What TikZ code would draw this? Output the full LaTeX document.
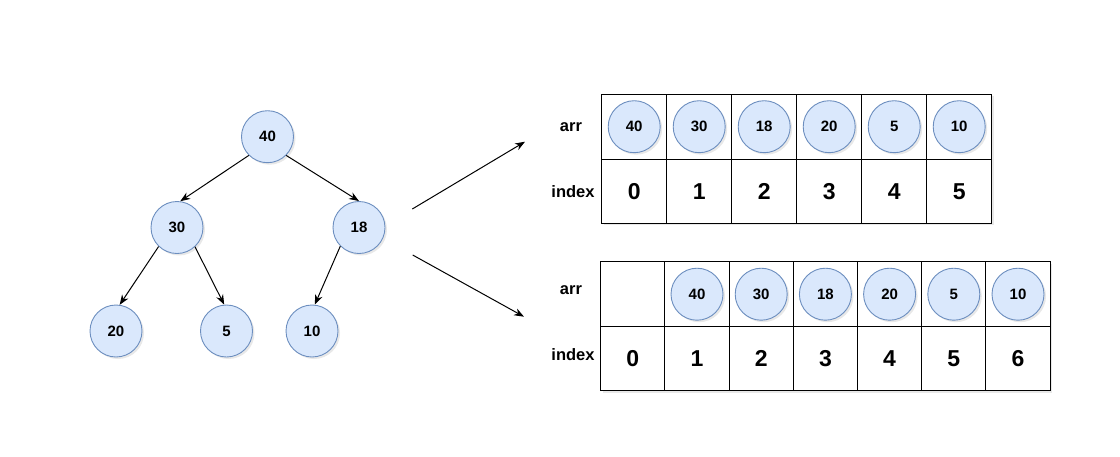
\documentclass[tikz,border=0pt]{standalone}
\usepackage{fontspec}
\setmainfont{Liberation Sans}
\usetikzlibrary{arrows.meta,shadows,positioning}
\definecolor{heapfill}{HTML}{DAE8FC}
\definecolor{heapline}{HTML}{6C8EBF}
\tikzstyle{arrow} = [->,>={Stealth[length=10pt,width=7.5pt]},line width=1pt]
\tikzstyle{heap} = [circle,draw=heapline,fill=heapfill,line width=0.9pt,minimum size=52pt,inner sep=0pt,
  font=\bfseries\fontsize{15}{15}\selectfont,drop shadow={shadow xshift=2pt,shadow yshift=-2pt,opacity=0.18}]
\tikzstyle{cell} = [rectangle,draw,fill=white,line width=1pt,inner sep=0pt,
  font=\bfseries\fontsize{23}{23}\selectfont,drop shadow={shadow xshift=2pt,shadow yshift=-2pt,opacity=0.18}]
\tikzstyle{rowlabel} = [font=\bfseries\fontsize{16.5}{16.5}\selectfont]

\begin{document}
\begin{tikzpicture}[x=1pt,y=-1pt]
\useasboundingbox (0,0) rectangle (1120,456);
% tree
\node[heap] (t40) at (267.5,136.7) {40};
\node[heap] (t30) at (177,227.5) {30};
\node[heap] (t18) at (359,227.5) {18};
\node[heap] (t20) at (116,331) {20};
\node[heap] (t5) at (226.5,331) {5};
\node[heap] (t10) at (312,331) {10};
\draw[arrow] (t40.-135)--(t30.83);
\draw[arrow] (t40.-45)--(t18.north);
\draw[arrow] (t30.-134)--(t20.82);
\draw[arrow] (t30.-47)--(t5.95);
\draw[arrow] (t18.-135)--(t10.84);
% arrows to the arrays
\coordinate (upstart) at (412.3,209);
\coordinate (upend) at (525,141.7);
\coordinate (downstart) at (412.7,255);
\coordinate (downend) at (524,316.7);
\draw[arrow] (upstart)--(upend);
\draw[arrow] (downstart)--(downend);
% array from index 0
\node[rowlabel] (arrA) at (571,127) {arr};
\node[rowlabel] (idxA) at (573,192) {index};
\foreach \v [count=\i from 0] in {40,30,18,20,5,10} {
  \node[cell,minimum width=65pt,minimum height=64.7pt] (a\i) at ({634.2+65*\i},126.7) {};
  \node[heap] (ac\i) at (a\i) {\v};
  \node[cell,minimum width=65pt,minimum height=64.3pt] (ai\i) at ({634.2+65*\i},191.2) {\i};
}
% array from index 1
\node[rowlabel] (arrB) at (571,290) {arr};
\node[rowlabel] (idxB) at (573,355) {index};
\foreach \i in {0,...,6} {
  \node[cell,minimum width=64.2pt,minimum height=65pt] (b\i) at ({632.8+64.2*\i},294.2) {};
  \node[cell,minimum width=64.2pt,minimum height=64.3pt] (bi\i) at ({632.8+64.2*\i},358.8) {\i};
}
\foreach \v [count=\i from 1] in {40,30,18,20,5,10} {
  \node[heap] (bc\i) at (b\i) {\v};
}
\end{tikzpicture}
\end{document}
